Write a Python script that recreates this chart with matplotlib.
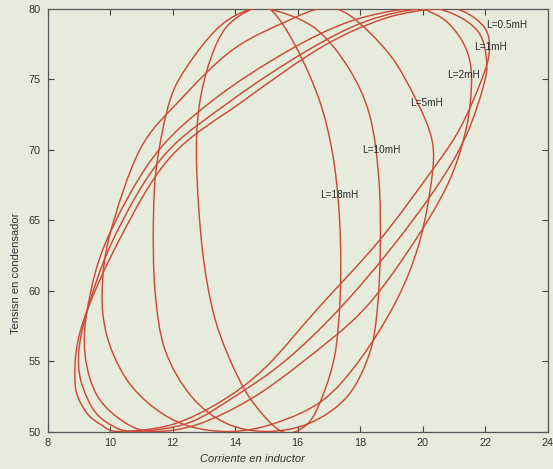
import numpy as np
import matplotlib
matplotlib.use("Agg")
import matplotlib.pyplot as plt
from matplotlib.path import Path
from matplotlib.patches import PathPatch

plt.rcParams['font.family'] = ['Liberation Sans', 'DejaVu Sans']

# ---- data (current in inductor, capacitor voltage) ----
labels = ['L=0.5mH', 'L=1mH', 'L=2mH', 'L=5mH', 'L=10mH', 'L=18mH']

i_05 = [20.5, 18.8, 16.8, 14.3, 11.95, 10.3, 9.1, 8.88, 9.2, 9.7, 10.3, 12.0, 13.6, 15.0, 16.6, 18.6, 20.3, 21.2, 21.9, 22.14, 22.0, 21.3]
v_05 = [80.0, 79.3, 77.3, 73.5, 69.5, 63.6, 57.5, 53.5, 51.5, 50.5, 50.0, 50.5, 52.2, 54.6, 58.6, 63.5, 68.5, 71.5, 75.0, 77.0, 78.6, 79.8]

i_1 = [20.0, 18.2, 16.3, 13.9, 11.7, 10.1, 9.2, 9.0, 9.4, 10.0, 10.8, 12.5, 14.0, 15.6, 17.3, 19.0, 20.5, 21.4, 21.95, 22.05, 21.8, 21.0]
v_1 = [80.0, 79.1, 77.0, 73.5, 69.5, 63.6, 58.0, 54.5, 51.8, 50.5, 50.0, 50.6, 52.5, 55.0, 58.6, 63.0, 67.5, 71.0, 74.5, 76.3, 78.3, 79.6]

i_2 = [19.6, 17.7, 15.7, 13.3, 11.4, 9.9, 9.3, 9.2, 9.6, 10.5, 11.4, 12.8, 14.5, 16.2, 18.1, 19.6, 20.8, 21.4, 21.57, 21.4, 20.9, 20.3]
v_2 = [80.0, 79.1, 77.0, 73.5, 69.5, 63.6, 59.0, 55.5, 52.5, 50.6, 50.0, 50.5, 52.3, 55.0, 58.6, 63.0, 67.5, 71.5, 75.0, 77.1, 78.8, 79.7]

i_5 = [16.8, 15.76, 13.94, 12.24, 10.96, 10.0, 9.75, 9.9, 10.5, 11.4, 12.5, 13.9, 15.3, 16.8, 18.0, 19.17, 19.9, 20.3, 20.3, 19.8, 18.96, 17.68]
v_5 = [80.0, 79.2, 77.1, 73.5, 70.0, 64.0, 60.0, 56.8, 53.8, 51.7, 50.4, 50.0, 50.6, 52.2, 55.1, 59.3, 63.4, 68.0, 70.7, 73.5, 76.7, 79.5]

i_10 = [15.0, 14.2, 13.4, 12.5, 11.92, 11.5, 11.39, 11.44, 11.76, 12.6, 13.7, 15.0, 16.4, 17.6, 18.3, 18.55, 18.65, 18.6, 18.3, 17.6, 16.5]
v_10 = [80.0, 79.7, 78.5, 76.0, 73.5, 69.0, 65.0, 60.0, 55.8, 52.5, 50.6, 50.0, 50.6, 52.5, 55.5, 58.6, 63.0, 68.0, 72.5, 75.9, 78.7]

i_18 = [14.6, 13.73, 13.2, 12.85, 12.77, 12.95, 13.3, 13.8, 14.5, 15.5, 16.3, 16.8, 17.2, 17.36, 17.38, 17.3, 17.1, 16.7, 15.97, 15.2]
v_18 = [80.0, 78.7, 76.3, 73.0, 69.0, 63.0, 58.5, 55.3, 52.3, 50.0, 50.5, 52.5, 55.5, 59.3, 63.0, 66.5, 70.0, 73.5, 77.2, 79.8]

label_i = [22.69, 22.18, 21.3, 20.13, 18.69, 17.33]
label_v = [78.8, 77.3, 75.3, 73.3, 70.0, 66.8]

x_ticks = [8, 10, 12, 14, 16, 18, 20, 22, 24]
y_ticks = [50, 55, 60, 65, 70, 75, 80]

curves = [(i_05, v_05), (i_1, v_1), (i_2, v_2), (i_5, v_5), (i_10, v_10), (i_18, v_18)]

BG = '#e7ebdb'
RED = '#cb4a38'


def closed_smooth_path(xs, ys):
    """Closed Catmull-Rom curve through the traced points, as cubic Bezier path."""
    p = np.column_stack([xs, ys]).astype(float)
    n = len(p)
    verts = [p[0]]
    codes = [Path.MOVETO]
    for k in range(n):
        p0, p1, p2, p3 = p[(k - 1) % n], p[k], p[(k + 1) % n], p[(k + 2) % n]
        c1 = p1 + (p2 - p0) / 6.0
        c2 = p2 - (p3 - p1) / 6.0
        verts += [c1, c2, p2]
        codes += [Path.CURVE4] * 3
    return Path(verts, codes)


fig = plt.figure(figsize=(5.53, 4.69), dpi=100, facecolor=BG)
ax = fig.add_axes([47.5 / 553, 37.5 / 469, 500 / 553, 423 / 469])
ax.set_facecolor(BG)

for xs, ys in curves:
    patch = PathPatch(closed_smooth_path(xs, ys), fill=False, edgecolor=RED,
                      linewidth=1.05, clip_on=True, zorder=3)
    ax.add_patch(patch)

for lab, lx, ly in zip(labels, label_i, label_v):
    ax.text(lx, ly, lab, fontsize=7.2, color='#2a2a2a', ha='center', va='center', zorder=4)

ax.set_xlim(8, 24)
ax.set_ylim(50, 80)
ax.set_xticks(x_ticks)
ax.set_yticks(y_ticks)
ax.tick_params(direction='in', length=4, width=0.8, colors='#444444', labelsize=7.8,
               top=True, right=True, labelcolor='#333333', pad=5)
for s in ax.spines.values():
    s.set_color('#555555')
    s.set_linewidth(0.9)

fig.text(252 / 553, 1 - 459 / 469, 'Corriente en inductor', fontsize=8, style='italic',
         color='#333333', ha='center', va='center')
fig.text(16 / 553, 1 - 273 / 469, 'Tensisn en condensador', fontsize=8,
         color='#333333', ha='center', va='center', rotation=90)

fig.savefig('out.png', dpi=100, facecolor=BG)
